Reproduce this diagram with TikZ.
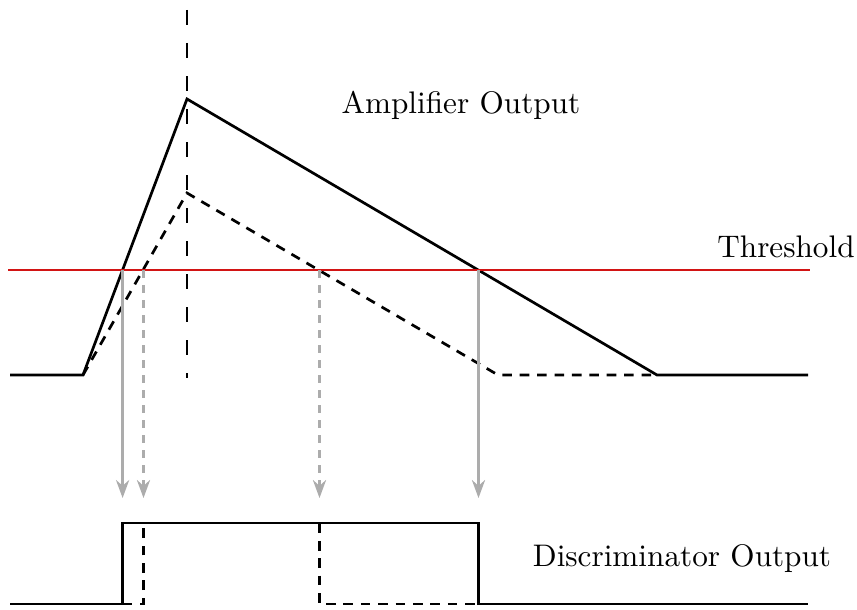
\documentclass[tikz,border=0pt]{standalone}
\usetikzlibrary{arrows.meta}
\definecolor{thrred}{RGB}{210,20,20}
\definecolor{arrgray}{RGB}{172,172,172}
\begin{document}
\begin{tikzpicture}[x=0.3333pt,y=-0.3333pt,
  sig/.style={line width=0.9pt, line join=miter},
  sigdash/.style={sig, dash pattern=on 3.2pt off 2.6pt},
  probe/.style={line width=0.8pt, arrgray, -{Stealth[length=6pt,width=4.4pt]}},
  probedash/.style={probe, dash pattern=on 2.6pt off 2.4pt},
  lbl/.style={font=\fontsize{10.4}{12.5}\selectfont, inner sep=0pt}]
\useasboundingbox (0,0) rectangle (857,610);
% amplifier coordinates
\coordinate (a0) at (10,375);
\coordinate (a1) at (83,375);
\coordinate (apk) at (187,99);
\coordinate (bpk) at (187,193);
\coordinate (aend) at (657,375);
\coordinate (bend) at (498,375);
\coordinate (a9) at (808,375);
% threshold
\coordinate (t0) at (8,270);
\coordinate (t1) at (810,270);
% crossings
\coordinate (c1) at (122.6,270);
\coordinate (c2) at (143.5,270);
\coordinate (c3) at (319.5,270);
\coordinate (c4) at (478.5,270);
\coordinate (e1) at (122.6,498);
\coordinate (e2) at (143.5,498);
\coordinate (e3) at (319.5,498);
\coordinate (e4) at (478.5,498);
% discriminator
\coordinate (d0) at (10,604);
\coordinate (d1) at (122.6,604);
\coordinate (d1t) at (122.6,523);
\coordinate (d2) at (143.5,604);
\coordinate (d2t) at (143.5,523);
\coordinate (d3t) at (319.5,523);
\coordinate (d3) at (319.5,604);
\coordinate (d4t) at (478.5,523);
\coordinate (d4) at (478.5,604);
\coordinate (d9) at (808,604);
% peak marker
\coordinate (v0) at (187,10);
\coordinate (v1) at (187,378);

\draw[line width=0.9pt, dash pattern=on 5pt off 6pt] (v0) -- (v1);
\draw[sig] (a0) -- (a1) -- (apk) -- (aend) -- (a9);
\draw[sigdash] (a1) -- (bpk) -- (bend) -- (aend);
\draw[line width=0.85pt, thrred] (t0) -- (t1);

\draw[probe] (c1) -- (e1);
\draw[probedash] (c2) -- (e2);
\draw[probedash] (c3) -- (e3);
\draw[probe] (c4) -- (e4);

\draw[sig] (d0) -- (d1) -- (d1t) -- (d4t) -- (d4) -- (d9);
\draw[sigdash] (d1) -- (d2) -- (d2t) -- (d3t) -- (d3) -- (d4);

\node[lbl] (amp) at (461,105) {Amplifier Output};
\node[lbl] (thr) at (786,247) {Threshold};
\node[lbl] (disc) at (682,559) {Discriminator Output};
\end{tikzpicture}
\end{document}
